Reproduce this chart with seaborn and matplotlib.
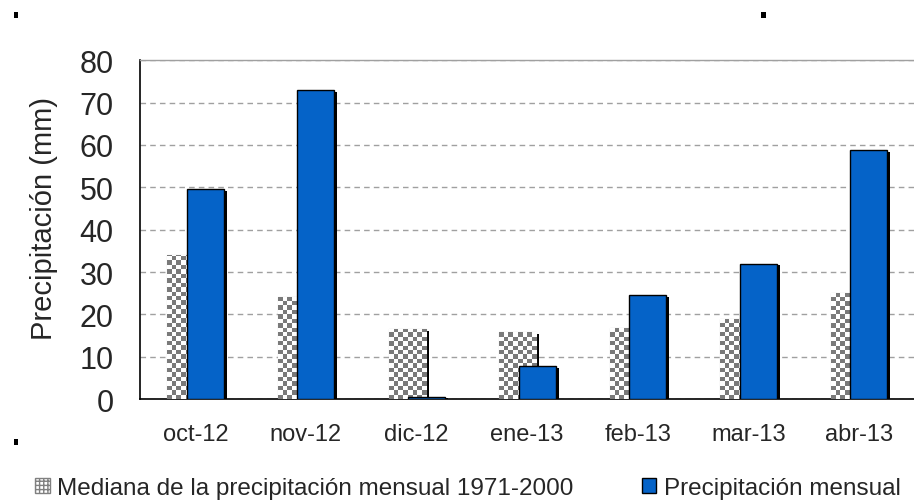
import numpy as np
import pandas as pd
import matplotlib
matplotlib.use("Agg")
import matplotlib.pyplot as plt
import matplotlib.patheffects as pe
from matplotlib.patches import Patch, Rectangle
import seaborn as sns

# data
meses = ["oct-12", "nov-12", "dic-12", "ene-13", "feb-13", "mar-13", "abr-13"]
mediana = [34.0, 24.2, 16.5, 15.8, 16.7, 18.9, 25.0]
precip = [49.7, 72.9, 0.6, 7.9, 24.5, 32.0, 58.7]

label_med = "Mediana de la precipitación mensual 1971-2000"
label_pre = "Precipitación mensual"

df = pd.DataFrame({"mes": meses, "mediana": mediana, "precip": precip})

sns.set_style("white")
plt.rcParams["font.family"] = ["Liberation Sans", "DejaVu Sans"]

fig = plt.figure(figsize=(9.14, 5.02), dpi=100)
ax = fig.add_axes([0.1532, 0.203, 0.847, 0.675])

shadow = [pe.SimplePatchShadow(offset=(2.2, -1.4), shadow_rgbFace="black", alpha=1.0), pe.Normal()]

bw = 0.335
sns.barplot(data=df, x="mes", y="mediana", color="white", width=bw, ax=ax,
            edgecolor="#9a9a9a", linewidth=0.8, saturation=1, zorder=3)
n_med = len(ax.patches)
sns.barplot(data=df, x="mes", y="precip", color="#0563C8", width=bw, ax=ax,
            edgecolor="black", linewidth=1.0, saturation=1, zorder=4)

# checker fill for the median bars
cell_x = 0.042
cell_y = 1.05
checker = matplotlib.colors.ListedColormap(["#7a7a7a", "white"])
for i, p in enumerate(ax.patches):
    if i < n_med:
        p.set_x(p.get_x() - 0.085)
        p.set_path_effects(shadow)
        x0, w, h = p.get_x(), p.get_width(), p.get_height()
        nx = max(int(round(w / cell_x)), 1)
        ny = int(np.ceil(h / cell_y)) + 1
        board = (np.add.outer(np.arange(ny), np.arange(nx)) % 2).astype(float)
        im = ax.imshow(board, cmap=checker, extent=(x0, x0 + w, 0, ny * cell_y),
                       origin="lower", interpolation="nearest", aspect="auto", zorder=3.5)
        im.set_clip_path(p)
    else:
        p.set_x(p.get_x() + 0.09)
        p.set_path_effects(shadow)

ax.set_xlim(-0.5, 6.5)
ax.set_ylim(0, 80)
ax.set_yticks(range(0, 81, 10))
ax.yaxis.grid(True, linestyle=(0, (4, 3)), color="#a0a0a0", linewidth=1.0, zorder=0)
ax.set_axisbelow(True)

ax.set_xticks(np.arange(-0.5, 7, 1), minor=True)
ax.tick_params(axis="x", which="major", length=0, labelsize=17, pad=17)
ax.tick_params(axis="x", which="minor", length=6, width=1.2, color="black", direction="out")
ax.tick_params(axis="y", length=9, width=1.2, color="#333333", direction="out", labelsize=22, pad=10)

for s in ["left", "bottom"]:
    ax.spines[s].set_color("black")
    ax.spines[s].set_linewidth(1.2)
ax.spines["top"].set_color("#a0a0a0")
ax.spines["top"].set_linewidth(1.0)
ax.spines["right"].set_visible(False)

ax.set_xlabel("")
ax.set_ylabel("Precipitación (mm)", fontsize=21)
ax.yaxis.set_label_coords(-0.106, 0.535)

handles = [
    Patch(facecolor="white", edgecolor="#808080", hatch="++++", label=label_med),
    Patch(facecolor="#0563C8", edgecolor="black", label=label_pre),
]
fig.legend(handles=handles, loc="center", bbox_to_anchor=(0.512, 0.026), ncol=2,
           frameon=False, fontsize=17.5, handlelength=0.6, handleheight=0.6,
           handletextpad=0.3, columnspacing=2.8)

# selection handles seen in the original capture
for (hx, hy) in [(0.015, 0.962), (0.833, 0.962), (0.015, 0.112)]:
    fig.patches.append(Rectangle((hx, hy), 0.005, 0.012, transform=fig.transFigure,
                                 facecolor="black", edgecolor="none"))

fig.savefig("out.png", dpi=100)
